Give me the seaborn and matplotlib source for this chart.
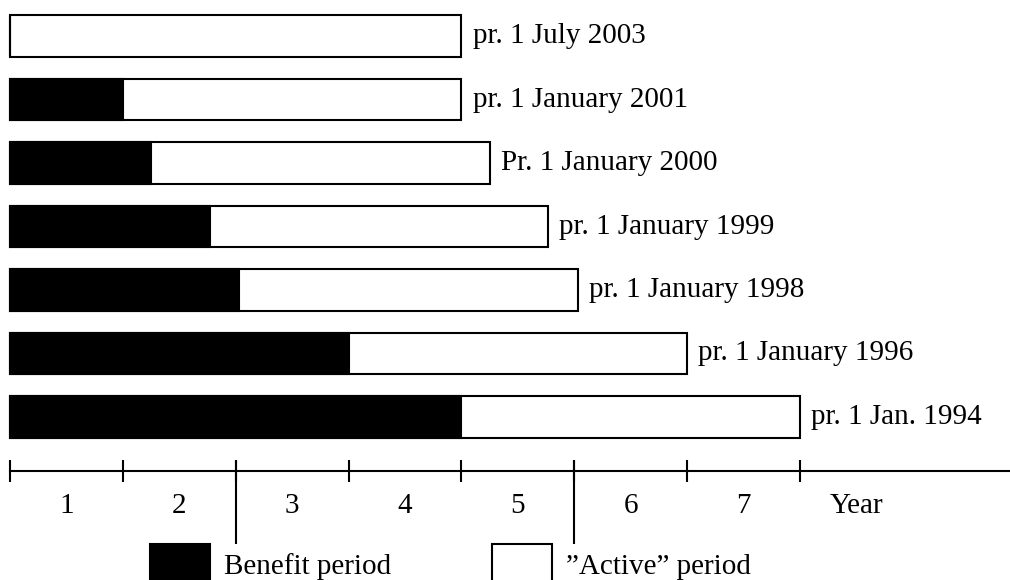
import numpy as np
import pandas as pd
import matplotlib.pyplot as plt
import seaborn as sns
from matplotlib.patches import Patch

sns.set_style("white")
plt.rcParams["font.family"] = ["Liberation Serif", "DejaVu Serif"]
plt.rcParams["text.color"] = "black"
plt.rcParams["xtick.color"] = "black"
plt.rcParams["xtick.labelcolor"] = "black"

# data (years)
periods = ["pr. 1 July 2003", "pr. 1 January 2001", "Pr. 1 January 2000",
           "pr. 1 January 1999", "pr. 1 January 1998", "pr. 1 January 1996",
           "pr. 1 Jan. 1994"]
benefit_years = [0, 1, 1.25, 1.77, 2.03, 3, 4]
total_years = [4, 4, 4.25, 4.77, 5.03, 6, 7]
year_labels = ["1", "2", "3", "4", "5", "6", "7", "Year"]
long_ticks = [2, 5]
legend_labels = ["Benefit period", "\u201dActive\u201d period"]

df = pd.DataFrame({"period": periods, "benefit": benefit_years, "total": total_years})

FS = 21
LW = 1.5

fig = plt.figure(figsize=(10.1, 5.8), dpi=100)
ax = fig.add_axes([0, 0, 1, 1])

sns.barplot(data=df, x="total", y="period", order=periods, orient="h",
            color="white", edgecolor="black", linewidth=LW, width=0.66,
            saturation=1, ax=ax)
sns.barplot(data=df, x="benefit", y="period", order=periods, orient="h",
            color="black", edgecolor="black", linewidth=LW, width=0.66,
            saturation=1, ax=ax)

for i, row in df.iterrows():
    ax.annotate(row["period"], xy=(row["total"], i), xytext=(8, 0),
                textcoords="offset points", va="center", ha="left",
                fontsize=FS, color="black")

ax.set_xlim(-0.0886, 8.86)
ax.set_ylim(8.567, -0.567)
axis_y = 6.85

for s in ["left", "top", "right"]:
    ax.spines[s].set_visible(False)
ax.spines["bottom"].set_position(("data", axis_y))
ax.spines["bottom"].set_bounds(0, 8.86)
ax.spines["bottom"].set_linewidth(LW)
ax.spines["bottom"].set_color("black")

ax.set_yticks([])
ax.set_ylabel("")
ax.set_xlabel("")
ax.set_xticks(np.arange(0, 8))
ax.set_xticklabels([])
ax.tick_params(axis="x", which="major", bottom=True, direction="inout",
               length=16.5, width=LW, color="black")
ax.set_xticks(np.arange(len(year_labels)) + 0.5, minor=True)
ax.set_xticklabels(year_labels, minor=True, fontsize=FS, color="black")
ax.tick_params(axis="x", which="minor", bottom=True, length=0, pad=16)

ax.vlines(long_ticks, 6.677, 8.0, color="black", linewidth=LW)

handles = [Patch(facecolor="black", edgecolor="black", linewidth=LW),
           Patch(facecolor="white", edgecolor="black", linewidth=LW)]
fig.legend(handles, legend_labels, loc="upper left",
           bbox_to_anchor=(150 / 1010, 1 - 544 / 580), ncol=2, frameon=False,
           fontsize=FS, handlelength=2.05, handleheight=1.8, handletextpad=0.5,
           columnspacing=3.45, borderpad=0, borderaxespad=0, labelcolor="black")

fig.savefig("out.png", dpi=100)
